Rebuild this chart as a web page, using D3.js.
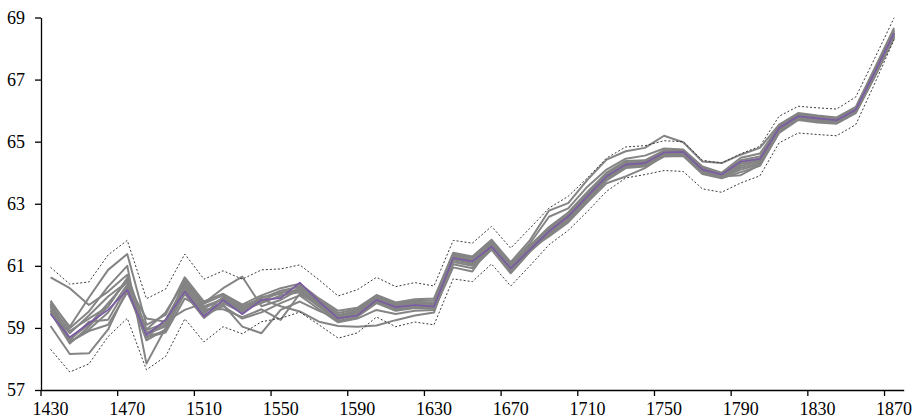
<!DOCTYPE html>
<html>
<head>
<meta charset="utf-8">
<script src="https://cdn.jsdelivr.net/npm/d3@7"></script>
<style>
  body { margin: 0; background: #ffffff; }
  svg { display: block; }
</style>
</head>
<body>
<svg id="chart" width="919" height="420"></svg>
<script>
// Decade categories (one point per decade) and the labelled ones
const years = [1430, 1440, 1450, 1460, 1470, 1480, 1490, 1500, 1510, 1520,
               1530, 1540, 1550, 1560, 1570, 1580, 1590, 1600, 1610, 1620,
               1630, 1640, 1650, 1660, 1670, 1680, 1690, 1700, 1710, 1720,
               1730, 1740, 1750, 1760, 1770, 1780, 1790, 1800, 1810, 1820,
               1830, 1840, 1850, 1860, 1870];
const xTickLabels = [1430, 1470, 1510, 1550, 1590, 1630, 1670, 1710, 1750, 1790, 1830, 1870];
const yTickValues = [57, 59, 61, 63, 65, 67, 69];

// Central estimate (purple)
const mean = [59.44, 58.70, 59.15, 59.58, 60.23, 58.77, 59.26, 60.17, 59.37, 59.90,
              59.44, 59.90, 59.96, 60.46, 59.85, 59.31, 59.40, 59.90, 59.67, 59.74,
              59.69, 61.25, 61.14, 61.62, 60.92, 61.52, 62.11, 62.59, 63.24, 63.88,
              64.26, 64.31, 64.65, 64.67, 64.10, 63.94, 64.36, 64.44, 65.44, 65.82,
              65.75, 65.69, 66.03, 67.25, 68.50];

// Upper and lower bounds (dotted)
const upper = [60.95, 60.41, 60.48, 61.35, 61.82, 59.94, 60.25, 61.38, 60.57, 60.84,
               60.57, 60.87, 60.90, 61.03, 60.55, 60.03, 60.23, 60.63, 60.33, 60.46,
               60.35, 61.82, 61.73, 62.27, 61.57, 62.21, 62.86, 63.24, 63.83, 64.47,
               64.83, 64.87, 65.03, 65.00, 64.40, 64.31, 64.61, 64.85, 65.82, 66.14,
               66.09, 66.05, 66.44, 67.70, 68.99];
const lower = [58.31, 57.58, 57.84, 58.72, 59.31, 57.65, 58.08, 59.29, 58.55, 59.04,
               58.81, 59.20, 59.31, 59.51, 59.10, 58.67, 58.84, 59.35, 59.04, 59.19,
               59.10, 60.58, 60.49, 61.06, 60.35, 61.00, 61.68, 62.14, 62.75, 63.40,
               63.83, 63.94, 64.07, 64.04, 63.48, 63.37, 63.67, 63.90, 64.96, 65.28,
               65.23, 65.19, 65.55, 66.89, 68.29];

// Individual series (grey)
const run01 = [59.82, 59.04, 59.98, 60.87, 61.38, 59.10, 59.42, 60.63, 59.85, 60.10,
               59.75, 60.05, 60.28, 60.42, 59.95, 59.55, 59.65, 60.06, 59.82, 59.92,
               59.95, 61.42, 61.30, 61.84, 61.12, 61.82, 62.78, 63.02, 63.77, 64.42,
               64.69, 64.80, 65.19, 64.98, 64.36, 64.31, 64.58, 64.80, 65.55, 65.92,
               65.84, 65.78, 66.12, 67.38, 68.66];
const run02 = [60.63, 60.28, 59.74, 60.17, 60.71, 58.93, 59.15, 60.44, 59.62, 59.96,
               59.60, 60.00, 60.10, 60.38, 59.90, 59.48, 59.60, 60.02, 59.78, 59.88,
               59.88, 61.38, 61.25, 61.78, 61.05, 61.72, 62.58, 62.85, 63.55, 64.10,
               64.45, 64.55, 64.78, 64.75, 64.20, 64.00, 64.48, 64.62, 65.50, 65.88,
               65.80, 65.74, 66.08, 67.32, 68.60];
const run03 = [59.88, 58.99, 59.53, 60.33, 61.00, 57.85, 59.00, 60.55, 59.78, 60.05,
               59.70, 59.95, 60.20, 60.33, 59.88, 59.42, 59.55, 59.98, 59.74, 59.84,
               59.82, 61.34, 61.20, 61.72, 61.00, 61.65, 62.25, 62.72, 63.38, 64.00,
               64.38, 64.40, 64.72, 64.72, 64.16, 63.97, 64.40, 64.52, 65.47, 65.85,
               65.77, 65.71, 66.05, 67.28, 68.56];
const run04 = [59.06, 58.16, 58.18, 58.95, 60.25, 58.60, 58.95, 60.10, 59.32, 59.80,
               59.50, 59.85, 60.00, 60.30, 59.82, 59.38, 59.52, 59.95, 59.70, 59.80,
               59.78, 61.30, 61.16, 61.68, 60.96, 61.60, 62.20, 62.66, 63.32, 63.95,
               64.33, 64.36, 64.68, 64.69, 64.13, 63.95, 64.34, 64.46, 65.44, 65.82,
               65.74, 65.68, 66.02, 67.25, 68.52];
const run05 = [59.70, 58.53, 58.95, 59.50, 60.40, 59.30, 59.20, 59.58, 59.80, 60.28,
               60.65, 59.70, 59.90, 60.25, 59.78, 59.35, 59.48, 59.92, 59.66, 59.76,
               59.74, 61.26, 61.12, 61.65, 60.92, 61.56, 62.15, 62.62, 63.28, 63.92,
               64.30, 64.33, 64.65, 64.66, 64.10, 63.92, 64.28, 64.40, 65.41, 65.80,
               65.72, 65.66, 66.00, 67.22, 68.48];
const run06 = [59.78, 58.65, 59.10, 59.80, 60.50, 58.80, 59.05, 60.33, 59.55, 59.75,
               59.04, 58.83, 59.58, 59.85, 59.55, 59.30, 59.45, 59.88, 59.62, 59.72,
               59.70, 61.22, 61.08, 61.62, 60.88, 61.52, 62.12, 62.58, 63.25, 63.88,
               64.26, 64.30, 64.62, 64.63, 64.07, 63.90, 64.22, 64.35, 65.38, 65.78,
               65.70, 65.64, 65.98, 67.19, 68.45];
const run07 = [59.74, 58.90, 59.30, 59.69, 60.61, 58.72, 58.90, 60.28, 59.50, 59.85,
               59.55, 59.92, 59.70, 59.53, 59.20, 59.06, 59.04, 59.08, 59.25, 59.40,
               59.50, 61.18, 61.05, 61.58, 60.85, 61.50, 62.08, 62.55, 63.20, 63.85,
               64.22, 64.27, 64.60, 64.60, 64.04, 63.88, 64.16, 64.30, 65.35, 65.75,
               65.68, 65.62, 65.96, 67.16, 68.42];
const run08 = [59.67, 58.59, 59.20, 59.26, 60.33, 58.67, 59.26, 60.38, 59.45, 60.00,
               59.65, 59.88, 60.15, 60.20, 59.72, 59.28, 59.42, 59.84, 59.58, 59.68,
               59.66, 61.12, 61.00, 61.55, 60.80, 61.47, 62.05, 62.50, 63.15, 63.80,
               64.18, 64.24, 64.56, 64.57, 64.00, 63.85, 64.10, 64.26, 65.32, 65.72,
               65.65, 65.60, 65.94, 67.13, 68.38];
const run09 = [59.60, 58.83, 59.40, 60.01, 60.49, 58.95, 59.50, 60.50, 59.70, 59.92,
               59.58, 59.80, 60.05, 60.15, 59.68, 59.22, 59.36, 59.80, 59.55, 59.64,
               59.62, 61.05, 60.92, 61.52, 60.76, 61.45, 62.00, 62.45, 63.10, 63.75,
               64.15, 64.20, 64.52, 64.54, 63.96, 63.82, 64.02, 64.22, 65.28, 65.70,
               65.62, 65.58, 65.92, 67.10, 68.34];
const run10 = [59.55, 58.55, 58.90, 59.10, 60.15, 58.85, 59.10, 60.22, 59.40, 59.70,
               59.30, 59.50, 59.80, 60.05, 59.60, 59.18, 59.30, 59.58, 59.45, 59.55,
               59.58, 60.95, 60.82, 61.70, 60.98, 61.58, 62.10, 62.60, 63.22, 63.90,
               64.28, 64.32, 64.66, 64.65, 64.12, 63.93, 64.30, 64.45, 65.45, 65.84,
               65.76, 65.70, 66.04, 67.27, 68.50];
const run11 = [59.50, 58.50, 59.04, 59.69, 60.60, 58.70, 58.85, 59.95, 59.60, 59.60,
               59.35, 59.60, 59.26, 60.10, 59.75, 59.40, 59.50, 59.96, 59.68, 59.78,
               59.72, 61.28, 61.18, 61.60, 60.90, 61.54, 61.95, 62.40, 63.05, 63.66,
               63.88, 64.15, 64.55, 64.60, 64.05, 63.88, 63.92, 64.25, 65.36, 65.76,
               65.70, 65.64, 65.98, 67.18, 68.40];
const runs = [run01, run02, run03, run04, run05, run06, run07, run08, run09, run10, run11];

const svg = d3.select("#chart");

// Category axis: one band per decade, points sit at band centres
const x = d3.scaleBand().domain(years).range([41, 903.7]).paddingInner(0).paddingOuter(0);
const bw = x.bandwidth();
const y = d3.scaleLinear().domain([57, 69]).range([390, 17.5]);

const line = d3.line()
  .x((d, i) => x(years[i]) + bw / 2)
  .y(d => y(d));

// Grey individual series
svg.append("g")
  .selectAll("path")
  .data(runs)
  .join("path")
  .attr("d", line)
  .attr("fill", "none")
  .attr("stroke", "#848484")
  .attr("stroke-width", 2)
  .attr("stroke-linejoin", "round");

// Dotted bounds
svg.append("g")
  .selectAll("path")
  .data([upper, lower])
  .join("path")
  .attr("d", line)
  .attr("fill", "none")
  .attr("stroke", "#3a3a3a")
  .attr("stroke-width", 1)
  .attr("stroke-dasharray", "2,2");

// Central series
svg.append("path")
  .datum(mean)
  .attr("d", line)
  .attr("fill", "none")
  .attr("stroke", "#7b5aa6")
  .attr("stroke-width", 1.6)
  .attr("stroke-linejoin", "round");

// X axis: ticks on category boundaries, labels centred in categories
const gx = svg.append("g")
  .attr("transform", "translate(0,390)")
  .call(d3.axisBottom(x).tickValues(xTickLabels).tickSize(6).tickSizeOuter(0));
gx.selectAll(".tick line").attr("x1", -bw / 2).attr("x2", -bw / 2);
gx.selectAll(".tick text").attr("y", 25).attr("dy", 0);

// Y axis
const gy = svg.append("g")
  .attr("transform", "translate(41,0)")
  .call(d3.axisLeft(y).tickValues(yTickValues).tickSize(6).tickSizeOuter(0).tickPadding(10));

[gx, gy].forEach(g => {
  g.attr("font-family", "'Liberation Serif', 'Times New Roman', serif")
   .attr("font-size", 18);
  g.selectAll(".domain").attr("stroke", "#000").attr("stroke-width", 1.3);
  g.selectAll(".tick line").attr("stroke", "#000").attr("stroke-width", 1.3);
  g.selectAll(".tick text").attr("fill", "#000");
});
</script>
</body>
</html>
